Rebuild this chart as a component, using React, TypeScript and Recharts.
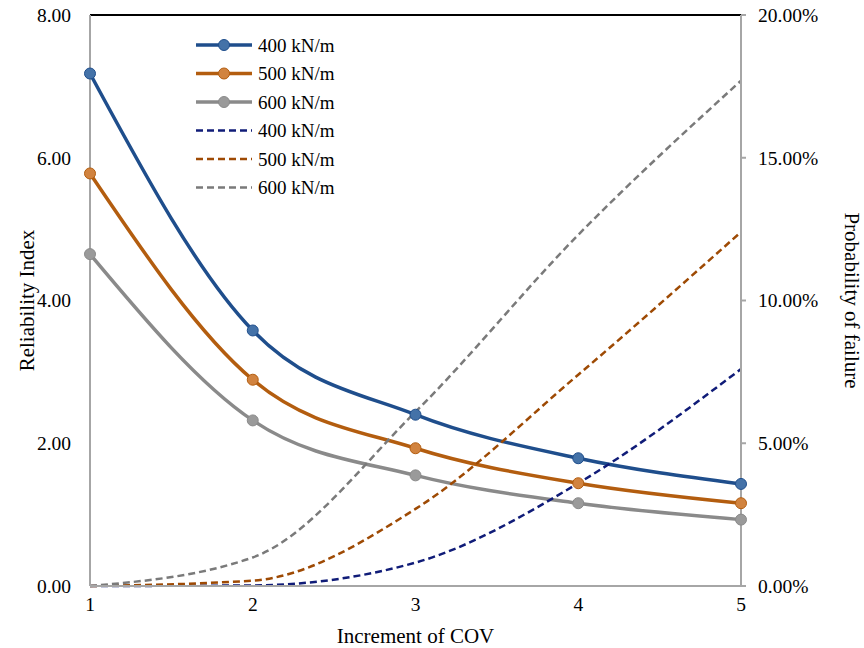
import React from "react";
import {
	LineChart,
	Line,
	XAxis,
	YAxis,
	Legend,
	ReferenceLine,
} from "recharts";

// increments of COV on the x axis
const COV = [1, 2, 3, 4, 5];

// reliability index (left axis)
const BETA_400 = [7.18, 3.58, 2.4, 1.79, 1.43];
const BETA_500 = [5.78, 2.89, 1.93, 1.44, 1.16];
const BETA_600 = [4.65, 2.32, 1.55, 1.16, 0.93];

// probability of failure in % (right axis)
const PF_400 = [0.0, 0.02, 0.82, 3.6, 7.6];
const PF_500 = [0.0, 0.19, 2.7, 7.4, 12.4];
const PF_600 = [0.0, 1.0, 6.1, 12.3, 17.7];

const LEFT_TICKS = [0, 2, 4, 6, 8];
const RIGHT_TICKS = [0, 5, 10, 15, 20];

const data = COV.map((c, i) => ({
	cov: c,
	b400: BETA_400[i],
	b500: BETA_500[i],
	b600: BETA_600[i],
	p400: PF_400[i],
	p500: PF_500[i],
	p600: PF_600[i],
}));

const FONT = '"Liberation Serif", "Times New Roman", serif';
const AXIS = "#a6a6a6";
const TICK = { fill: "#000", fontSize: 19.5 };

// series styles, in legend order
const SERIES = [
	{ key: "b400", name: "400 kN/m", axis: "left", color: "#1f4e8c", fill: "#4472a8", dashed: false },
	{ key: "b500", name: "500 kN/m", axis: "left", color: "#b35d0f", fill: "#d1833f", dashed: false },
	{ key: "b600", name: "600 kN/m", axis: "left", color: "#8a8a8a", fill: "#9a9a9a", dashed: false },
	{ key: "p400", name: "400 kN/m", axis: "right", color: "#101c78", fill: "", dashed: true },
	{ key: "p500", name: "500 kN/m", axis: "right", color: "#9e4a04", fill: "", dashed: true },
	{ key: "p600", name: "600 kN/m", axis: "right", color: "#7a7a7a", fill: "", dashed: true },
];

const AxisTitle = ({ viewBox, value, side }: any) => {
	const { x, y, width, height } = viewBox;
	const cx = side === "left" ? x + 27 : x + width - 12;
	const cy = y + height / 2;
	return (
		<text
			x={cx}
			y={cy}
			transform={`rotate(${side === "left" ? -90 : 90}, ${cx}, ${cy})`}
			textAnchor="middle"
			dominantBaseline="central"
			fontSize={21}
			fontFamily={FONT}
			fill="#000"
		>
			{value}
		</text>
	);
};

const LegendBox = () => (
	<svg width={190} height={172} style={{ display: "block" }}>
		{SERIES.map((s, i) => {
			const cy = 14 + i * 28.5;
			return (
				<g key={s.key}>
					<line
						x1={1}
						x2={57}
						y1={cy}
						y2={cy}
						stroke={s.color}
						strokeWidth={s.dashed ? 2.5 : 3.5}
						strokeDasharray={s.dashed ? "7 4" : undefined}
					/>
					{!s.dashed && <circle cx={29} cy={cy} r={5.5} fill={s.fill} stroke={s.color} strokeWidth={1} />}
					<text x={63} y={cy} dominantBaseline="central" fontSize={19} fontFamily={FONT} fill="#000">
						{s.name}
					</text>
				</g>
			);
		})}
	</svg>
);

const App: React.FC = () => {
	return (
		<div style={{ position: "absolute", left: 0, top: 0, width: 864, height: 648, background: "#fff" }}>
			<LineChart
				width={864}
				height={648}
				data={data}
				margin={{ top: 15, right: 0, bottom: 0, left: 0 }}
				style={{ fontFamily: FONT }}
			>
				<XAxis
					dataKey="cov"
					type="number"
					domain={[1, 5]}
					ticks={COV}
					height={62}
					stroke={AXIS}
					strokeWidth={2}
					tickLine={false}
					tickSize={0}
					tickMargin={11}
					tick={TICK}
					label={{ value: "Increment of COV", position: "insideBottom", offset: 5, fontSize: 21, fill: "#000" }}
				/>
				<YAxis
					yAxisId="left"
					domain={[0, 8]}
					ticks={LEFT_TICKS}
					width={90}
					stroke={AXIS}
					strokeWidth={2}
					tickLine={false}
					tickSize={0}
					tickMargin={19}
					tick={TICK}
					tickFormatter={(v: number) => v.toFixed(2)}
					label={<AxisTitle side="left" value="Reliability Index" />}
				/>
				<YAxis
					yAxisId="right"
					orientation="right"
					domain={[0, 20]}
					ticks={RIGHT_TICKS}
					width={123}
					stroke={AXIS}
					strokeWidth={2}
					tickSize={5}
					tickMargin={12}
					tick={TICK}
					tickFormatter={(v: number) => `${v.toFixed(2)}%`}
					label={<AxisTitle side="right" value="Probability of failure" />}
				/>
				<ReferenceLine yAxisId="left" y={8} stroke="#000" strokeWidth={2} />
				{SERIES.map((s) => (
					<Line
						key={s.key}
						yAxisId={s.axis}
						type="monotone"
						dataKey={s.key}
						name={s.name}
						stroke={s.color}
						strokeWidth={s.dashed ? 2.5 : 3.5}
						strokeDasharray={s.dashed ? "7 4" : undefined}
						dot={s.dashed ? false : { r: 5.5, fill: s.fill, stroke: s.color, strokeWidth: 1 }}
						activeDot={false}
						isAnimationActive={false}
					/>
				))}
				<Legend
					layout="vertical"
					verticalAlign="middle"
					align="center"
					content={<LegendBox />}
					wrapperStyle={{ left: 195, top: 31, width: 190, height: 172 }}
				/>
			</LineChart>
		</div>
	);
};

export default App;
